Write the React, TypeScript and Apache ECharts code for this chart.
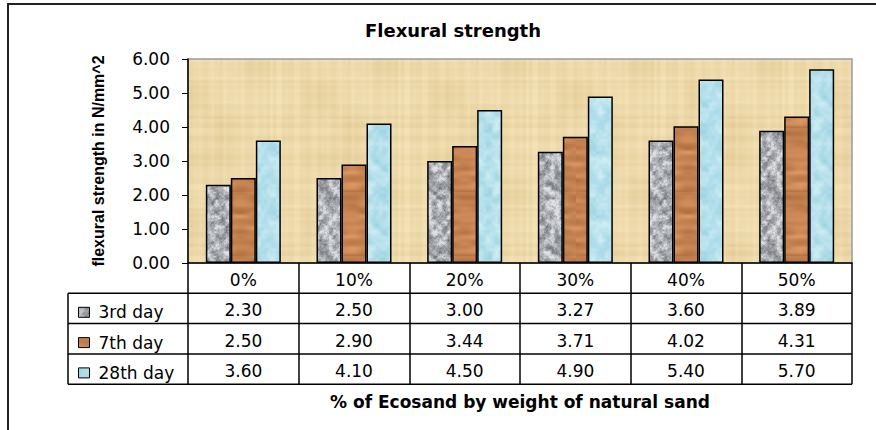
import React, { useEffect, useRef } from "react";
import * as echarts from "echarts";

const categories = ["0%", "10%", "20%", "30%", "40%", "50%"];
const day3 = [2.3, 2.5, 3.0, 3.27, 3.6, 3.89];
const day7 = [2.5, 2.9, 3.44, 3.71, 4.02, 4.31];
const day28 = [3.6, 4.1, 4.5, 4.9, 5.4, 5.7];
const seriesNames = ["3rd day", "7th day", "28th day"];
const seriesValues = [day3, day7, day28];

const W = 876;
const H = 430;
const GRID_L = 188;
const GRID_T = 59;
const GRID_W = 664;
const GRID_H = 204;
const ROW_H = 30.3;
const LEGEND_L = 68;

// deterministic hash-based value noise for textures (styling only)
function hash(x: number, y: number, seed: number) {
  const s = Math.sin(x * 127.1 + y * 311.7 + seed * 74.7) * 43758.5453;
  return s - Math.floor(s);
}
function noise(x: number, y: number, scale: number, size: number, seed: number) {
  const n = Math.max(1, Math.round(size / scale));
  const gx = x / scale;
  const gy = y / scale;
  const x0 = Math.floor(gx);
  const y0 = Math.floor(gy);
  const fx = gx - x0;
  const fy = gy - y0;
  const sx = fx * fx * (3 - 2 * fx);
  const sy = fy * fy * (3 - 2 * fy);
  const w = (v: number) => ((v % n) + n) % n;
  const a = hash(w(x0), w(y0), seed);
  const b = hash(w(x0 + 1), w(y0), seed);
  const c = hash(w(x0), w(y0 + 1), seed);
  const d = hash(w(x0 + 1), w(y0 + 1), seed);
  return a + (b - a) * sx + (c - a) * sy + (a - b - c + d) * sx * sy;
}
function lerp3(c1: number[], c2: number[], t: number) {
  const u = Math.max(0, Math.min(1, t));
  return [0, 1, 2].map((i) => c1[i] + (c2[i] - c1[i]) * u);
}
function makeTile(size: number, fn: (x: number, y: number) => number[]) {
  const cv = document.createElement("canvas");
  cv.width = size;
  cv.height = size;
  const ctx = cv.getContext("2d")!;
  const img = ctx.createImageData(size, size);
  for (let y = 0; y < size; y++) {
    for (let x = 0; x < size; x++) {
      const c = fn(x, y);
      const o = (y * size + x) * 4;
      img.data[o] = c[0];
      img.data[o + 1] = c[1];
      img.data[o + 2] = c[2];
      img.data[o + 3] = 255;
    }
  }
  ctx.putImageData(img, 0, 0);
  return cv;
}

export default function App() {
  const ref = useRef<HTMLDivElement>(null);
  useEffect(() => {
    if (!ref.current) return;
    const chart = echarts.init(ref.current, null, { renderer: "svg" });

    const S = 64;
    const granite = makeTile(S, (x, y) => {
      const n = 0.55 * noise(x, y, 5, S, 1) + 0.3 * noise(x, y, 2, S, 2) + 0.15 * hash(x, y, 3);
      return lerp3([105, 108, 114], [222, 224, 227], (n - 0.12) * 1.6);
    });
    const wood = makeTile(S, (x, y) => {
      const t = y * 0.55 + 3 * noise(x, y, 16, S, 4);
      const st = 0.5 + 0.5 * Math.sin(t);
      const n = 0.35 * st + 0.65 * noise(x * 0.25, y, 4, S, 5);
      return lerp3([176, 110, 64], [220, 152, 100], n);
    });
    const water = makeTile(S, (x, y) => {
      const n = 0.7 * noise(x, y, 8, S, 6) + 0.3 * noise(x, y, 3, S, 7);
      return lerp3([148, 206, 222], [216, 243, 249], n);
    });
    const BG = 128;
    const papyrus = makeTile(BG, (x, y) => {
      const fibX = noise(x, 0, 3, BG, 8);
      const fibY = noise(0, y, 3, BG, 9);
      const blotch = noise(x, y, 32, BG, 10);
      const n = 0.3 * fibX + 0.3 * fibY + 0.4 * blotch;
      return lerp3([224, 199, 146], [248, 232, 190], n);
    });
    const pat = (img: HTMLCanvasElement, s: number) => ({
      image: img,
      repeat: "repeat",
      imageWidth: s,
      imageHeight: s,
    });
    const seriesFills = [pat(granite, S), pat(wood, S), pat(water, S)];

    const axisY = GRID_T + GRID_H;
    const tableBottom = axisY + ROW_H * 4;
    const gridRight = GRID_L + GRID_W;
    const rowLines: any[] = [];
    for (let k = 1; k <= 4; k++) {
      const y = axisY + ROW_H * k;
      rowLines.push({
        type: "line",
        shape: { x1: LEGEND_L, y1: y, x2: gridRight, y2: y },
        style: { stroke: "#000", lineWidth: 1.5 },
        z: 10,
      });
    }
    rowLines.push({
      type: "line",
      shape: { x1: LEGEND_L, y1: axisY + ROW_H, x2: LEGEND_L, y2: tableBottom },
      style: { stroke: "#000", lineWidth: 1.5 },
      z: 10,
    });
    const option: any = {
      animation: false,
      backgroundColor: "#fff",
      textStyle: { fontFamily: "DejaVu Sans" },
      grid: {
        left: GRID_L,
        top: GRID_T,
        width: GRID_W,
        height: GRID_H,
        show: true,
        backgroundColor: pat(papyrus, BG),
        borderColor: "#9a9a9a",
        borderWidth: 1.5,
      },
      legend: {
        orient: "vertical",
        left: 73,
        top: axisY + ROW_H + 4,
        itemWidth: 11,
        itemHeight: 10,
        itemGap: ROW_H - 20,
        icon: "rect",
        data: seriesNames,
        itemStyle: { borderColor: "#000", borderWidth: 1 },
        textStyle: { fontFamily: "DejaVu Sans", fontSize: 17, color: "#000", lineHeight: 20, padding: [0, 0, 0, 4] },
        selectedMode: false,
      },
      xAxis: {
        type: "category",
        data: categories,
        axisLine: { show: true, lineStyle: { color: "#000", width: 1.5 } },
        axisTick: { show: true, length: ROW_H * 4, interval: 0, lineStyle: { color: "#000", width: 1.5 } },
        axisLabel: {
          interval: 0,
          margin: 2,
          lineHeight: ROW_H,
          fontSize: 17,
          color: "#000",
          fontFamily: "DejaVu Sans",
          formatter: (v: string, i: number) =>
            [v, ...seriesValues.map((s) => s[i].toFixed(2))].join("\n"),
        },
        name: "% of Ecosand by weight of natural sand",
        nameLocation: "middle",
        nameGap: 130,
        nameTextStyle: { fontFamily: "DejaVu Sans", fontWeight: "bold", fontSize: 17, color: "#000" },
      },
      yAxis: {
        type: "value",
        min: 0,
        max: 6,
        interval: 1,
        axisLine: { show: true, lineStyle: { color: "#000", width: 1.5 } },
        axisTick: { show: true, length: 6, lineStyle: { color: "#000", width: 1 } },
        splitLine: { show: false },
        axisLabel: {
          margin: 18,
          fontSize: 17,
          color: "#000",
          fontFamily: "DejaVu Sans",
          formatter: (v: number) => v.toFixed(2),
        },
        name: "flexural strength in N/mm^2",
        nameLocation: "middle",
        nameGap: 82,
        nameTextStyle: { fontFamily: "Liberation Sans", fontWeight: "bold", fontSize: 16, color: "#000" },
      },
      series: seriesNames.map((name, k) => ({
        name,
        type: "bar",
        data: seriesValues[k],
        barWidth: 25,
        barGap: "0%",
        itemStyle: { color: seriesFills[k], borderColor: "#000", borderWidth: 1.5 },
      })),
      graphic: [
        {
          type: "rect",
          shape: { x: 8, y: 4, width: 900, height: 500 },
          style: { fill: "none", stroke: "#222", lineWidth: 2 },
          silent: true,
          z: 0,
        },
        {
          type: "text",
          x: 453,
          y: 30,
          style: {
            text: "Flexural strength",
            fill: "#000",
            font: "bold 18px 'DejaVu Sans'",
            textAlign: "center",
            textVerticalAlign: "middle",
          },
          z: 10,
        },
        ...rowLines,
      ],
    };
    chart.setOption(option);
    return () => chart.dispose();
  }, []);
  return (
    <div
      ref={ref}
      style={{ position: "absolute", left: 0, top: 0, width: W, height: H }}
    />
  );
}
